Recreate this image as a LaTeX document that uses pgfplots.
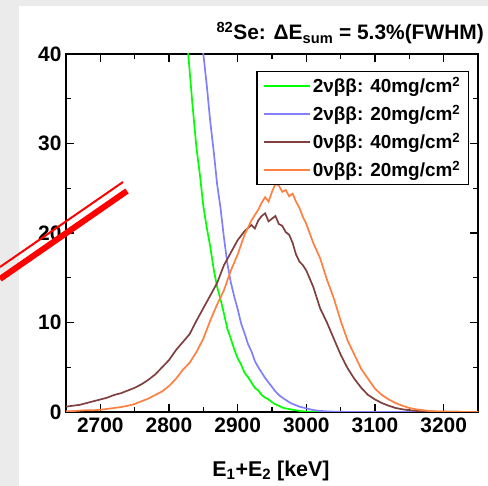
\documentclass[border=0pt]{standalone}
\usepackage{fontspec}
\setmainfont{Liberation Sans}
\usepackage{pgfplots}
\pgfplotsset{compat=1.18}
\definecolor{bgray}{RGB}{235,235,235}
\definecolor{cgreen}{RGB}{0,255,0}
\definecolor{cblue}{RGB}{128,128,255}
\definecolor{cbrown}{RGB}{128,64,64}
\definecolor{corange}{RGB}{255,128,64}
\begin{document}
\begin{tikzpicture}
\fill[bgray] (-66bp,-74bp) rectangle (422bp,412bp);
\fill[white] (-47bp,-74bp) rectangle (422bp,406bp);
\begin{axis}[
  scale only axis, width=412bp, height=358bp,
  xmin=2650, xmax=3250, ymin=0, ymax=40,
  xtick={2700,2800,...,3200}, minor xtick={2650,2750,...,3250},
  ytick={0,10,20,30,40}, minor ytick={5,15,25,35},
  tick align=inside, major tick length=8bp, minor tick length=5bp,
  every tick/.style={black, line width=1.2bp},
  axis line style={line width=1.3bp},
  /pgf/number format/assume math mode=true,
  /pgf/number format/1000 sep={},
  ticklabel style={font=\fontsize{21}{24}\selectfont\bfseries},
  xticklabel style={yshift=-2bp},
  yticklabel style={xshift=-1bp},
  legend style={at={(0.978,0.953)}, anchor=north east, draw=black, line width=1.3bp,
    font=\fontsize{19}{21}\selectfont\bfseries, row sep=7bp, inner xsep=6bp, inner ysep=4bp},
  legend cell align=left,
  legend image code/.code={\draw[#1, line width=2bp] (0bp,0bp) -- (46bp,0bp);},
  every axis plot/.append style={line width=1.7bp},
]
\addplot[cgreen] coordinates {
(2810,52) (2820,45) (2828,40) (2834,34.5) (2840,29.5) (2845,26.5) (2850,23) (2855,20.6) (2860,18.5) (2865,16.0) (2870,14) (2875,12.6)
(2880,11) (2885,9.3) (2890,8.2) (2895,7.0) (2900,6) (2905,5.3) (2910,4.4) (2915,3.9) (2920,3.3) (2925,2.7) (2930,2.4) (2935,1.9)
(2940,1.6) (2945,1.4) (2950,1.1) (2955,0.85) (2960,0.7) (2965,0.5) (2970,0.4) (2980,0.25) (2990,0.12) (3000,0.05) (3010,0.02) (3030,0) (3250,0)};
\addlegendentry{2νββ: 40mg/cm\textsuperscript{2}}
\addplot[cblue] coordinates {
(2830,55) (2840,47) (2850,40) (2855,36.5) (2860,32.5) (2865,29.2) (2870,25.5) (2875,22.8) (2880,19.5) (2885,16.6) (2890,14.5) (2895,12.9)
(2900,11.5) (2905,9.9) (2910,8.8) (2915,7.6) (2920,6.8) (2925,5.7) (2930,5.0) (2935,4.4) (2940,3.8) (2945,3.3) (2950,2.8) (2955,2.3)
(2960,1.9) (2965,1.6) (2970,1.35) (2975,1.1) (2980,0.9) (2990,0.6) (3000,0.4) (3010,0.22) (3020,0.12) (3030,0.07) (3040,0.04) (3050,0.02) (3080,0) (3250,0)};
\addlegendentry{2νββ: 20mg/cm\textsuperscript{2}}
\addplot[cbrown] coordinates {
(2650,0.6) (2660,0.7) (2670,0.8) (2680,1.0) (2690,1.2) (2700,1.4) (2710,1.6) (2720,1.9) (2730,2.1) (2740,2.4) (2750,2.7) (2760,3.1)
(2770,3.6) (2780,4.2) (2790,5.0) (2800,5.8) (2810,6.9) (2820,7.8) (2830,8.7) (2840,10.2) (2850,11.6) (2860,13.0) (2870,14.4) (2880,16.4)
(2890,17.8) (2900,19.2) (2910,20.2) (2920,20.9) (2925,20.5) (2930,21.4) (2935,21.9) (2940,22.2) (2945,21.3) (2950,21.6) (2955,21.9) (2960,21.0) (2965,20.8) (2970,20.1) (2975,19.8) (2980,18.9)
(2985,17.6) (2990,16.8) (2995,16.4) (3000,15.8) (3010,14.0) (3020,11.6) (3030,10.0) (3040,8.2) (3050,6.4) (3060,4.9) (3070,3.7) (3080,2.7) (3090,1.9)
(3100,1.4) (3110,1.0) (3120,0.7) (3130,0.45) (3140,0.3) (3150,0.2) (3160,0.12) (3170,0.08) (3180,0.05) (3200,0.03) (3250,0)};
\addlegendentry{0νββ: 40mg/cm\textsuperscript{2}}
\addplot[corange] coordinates {
(2650,0.1) (2660,0.1) (2670,0.15) (2680,0.2) (2690,0.2) (2700,0.25) (2710,0.35) (2720,0.45) (2730,0.55) (2740,0.7) (2750,0.9) (2760,1.2)
(2770,1.5) (2780,1.9) (2790,2.3) (2800,2.9) (2810,3.7) (2820,4.7) (2830,5.5) (2840,6.7) (2850,8.2) (2860,10.2) (2870,12.0) (2880,13.6)
(2890,15.8) (2900,17.6) (2910,19.8) (2920,21.4) (2930,22.6) (2935,23.4) (2940,24.0) (2945,23.5) (2950,24.6) (2955,25.5) (2960,25.3) (2965,24.6) (2970,24.8) (2975,24.1) (2980,24.4) (2985,23.5)
(2990,22.8) (2995,21.8) (3000,21.0) (3010,18.9) (3020,17.2) (3030,14.8) (3040,12.7) (3050,10.2) (3060,8.0) (3070,6.4) (3080,4.8) (3090,3.7)
(3100,2.6) (3110,1.9) (3120,1.4) (3130,1.0) (3140,0.7) (3150,0.45) (3160,0.3) (3170,0.2) (3180,0.1) (3190,0.07) (3200,0.05) (3220,0.02) (3250,0)};
\addlegendentry{0νββ: 20mg/cm\textsuperscript{2}}
\end{axis}
\node[anchor=base east, font=\fontsize{21}{25}\selectfont\bfseries, inner sep=0pt] at (418bp,372bp)
  {\textsuperscript{82}Se: ΔE\textsubscript{sum} = 5.3\%(FWHM)};
\node[anchor=base, font=\fontsize{21.5}{24}\selectfont\bfseries, inner sep=0pt] at (205bp,-64bp)
  {E\textsubscript{1}+E\textsubscript{2} [keV]};
\draw[red, line width=6bp] (-66bp,133bp) -- (61bp,221bp);
\draw[red, line width=2bp] (-66bp,145bp) -- (57bp,230bp);
\pgfresetboundingbox
\useasboundingbox (-66bp,-74bp) rectangle (422bp,412bp);
\end{tikzpicture}
\end{document}
